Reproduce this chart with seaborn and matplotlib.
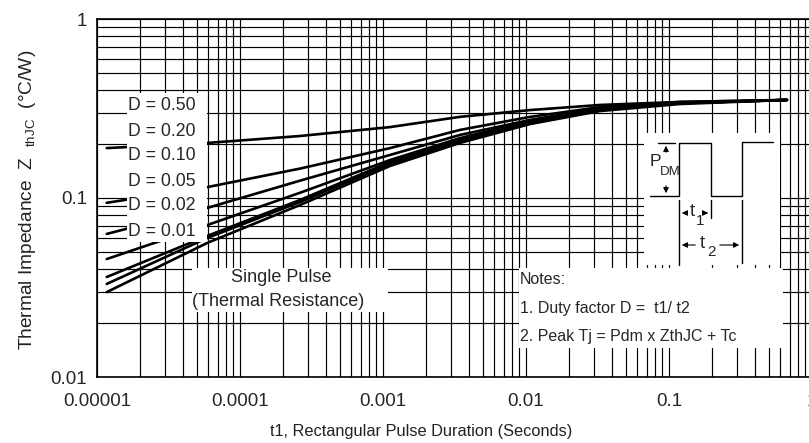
import numpy as np
import pandas as pd
import matplotlib
matplotlib.use("Agg")
import matplotlib.pyplot as plt
import seaborn as sns
from matplotlib.patches import Rectangle
from matplotlib.ticker import FixedLocator, FixedFormatter, LogLocator, NullFormatter

# pulse duration t1 (s) where curves were read
pulse_t = [1.17e-5, 5.9e-5, 2.63e-4, 1.12e-3, 3.45e-3, 1.07e-2, 3.29e-2, 0.119, 0.668]

# thermal impedance ZthJC (C/W) for each duty factor
z_d050 = [0.190, 0.203, 0.222, 0.249, 0.284, 0.310, 0.331, 0.344, 0.353]
z_d020 = [0.094, 0.115, 0.146, 0.190, 0.240, 0.284, 0.322, 0.344, 0.353]
z_d010 = [0.063, 0.088, 0.125, 0.174, 0.225, 0.273, 0.318, 0.339, 0.353]
z_d005 = [0.0456, 0.0706, 0.107, 0.163, 0.216, 0.269, 0.314, 0.339, 0.353]
z_d002 = [0.0362, 0.0614, 0.0975, 0.159, 0.211, 0.266, 0.310, 0.339, 0.353]
z_d001 = [0.0331, 0.0598, 0.095, 0.155, 0.208, 0.262, 0.310, 0.339, 0.353]
z_single = [0.0298, 0.0561, 0.0914, 0.151, 0.203, 0.259, 0.306, 0.335, 0.353]

duty_labels = ["D = 0.50", "D = 0.20", "D = 0.10", "D = 0.05", "D = 0.02", "D = 0.01"]
curve_names = duty_labels + ["Single Pulse"]
curve_values = [z_d050, z_d020, z_d010, z_d005, z_d002, z_d001, z_single]

x_ticks = [1e-5, 1e-4, 1e-3, 1e-2, 1e-1, 1]
x_tick_labels = ["0.00001", "0.0001", "0.001", "0.01", "0.1", "1"]
y_ticks = [0.01, 0.1, 1]
y_tick_labels = ["0.01", "0.1", "1"]

notes = ["Notes:", "1. Duty factor D =  t1/ t2", "2. Peak Tj = Pdm x ZthJC + Tc"]

df = pd.concat(
    [pd.DataFrame({"t": pulse_t, "z": v, "curve": n}) for n, v in zip(curve_names, curve_values)],
    ignore_index=True,
)

sns.set_style("white")
plt.rcParams["font.family"] = ["Liberation Sans", "DejaVu Sans"]
plt.rcParams["mathtext.default"] = "regular"

W, H = 809, 443
L, R, T, B = 97, 812, 19, 377

fig = plt.figure(figsize=(W / 100, H / 100), dpi=100)
ax = fig.add_axes([L / W, (H - B) / H, (R - L) / W, (B - T) / H])


def ac(px, py):
    # pixel position -> axes fraction
    return ((px - L) / (R - L), (B - py) / (B - T))


sns.lineplot(data=df, x="t", y="z", hue="curve", palette=["black"] * len(curve_names),
             legend=False, lw=1.9, estimator=None, sort=False, ax=ax, zorder=2)

ax.set_xscale("log")
ax.set_yscale("log")
ax.set_xlim(1e-5, 1)
ax.set_ylim(0.01, 1)
ax.xaxis.set_major_locator(FixedLocator(x_ticks))
ax.xaxis.set_major_formatter(FixedFormatter(x_tick_labels))
ax.yaxis.set_major_locator(FixedLocator(y_ticks))
ax.yaxis.set_major_formatter(FixedFormatter(y_tick_labels))
ax.xaxis.set_minor_locator(LogLocator(base=10, subs=np.arange(2, 10)))
ax.yaxis.set_minor_locator(LogLocator(base=10, subs=np.arange(2, 10)))
ax.xaxis.set_minor_formatter(NullFormatter())
ax.yaxis.set_minor_formatter(NullFormatter())
ax.grid(True, which="both", color="black", lw=0.85)
ax.set_axisbelow(True)
ax.tick_params(which="both", length=0)
ax.tick_params(axis="x", labelsize=13.5, pad=11.5)
ax.tick_params(axis="y", labelsize=13.5, pad=7)
for s in ax.spines.values():
    s.set_color("black")
    s.set_linewidth(1.2)

ax.set_xlabel("t1, Rectangular Pulse Duration (Seconds)", fontsize=11.8, color="#222222")
ax.xaxis.set_label_coords((421 - L) / (R - L), (B - 424) / (B - T))
ax.set_ylabel(r"Thermal Impedance  Z  $_{thJC}$  (°C/W)", fontsize=13.8, color="#222222")
ax.yaxis.set_label_coords((38 - L) / (R - L), (B - 200) / (B - T))

# white boxes
for x0, y0, x1, y1 in [(127, 93, 207, 242), (192, 268, 388, 312),
                       (519, 268, 783, 348), (644, 133, 780, 265)]:
    bx, by = ac(x0, y1)
    ax.add_patch(Rectangle((bx, by), (x1 - x0) / (R - L), (y1 - y0) / (B - T),
                           transform=ax.transAxes, facecolor="white", edgecolor="none", zorder=3))

for i, lab in enumerate(duty_labels):
    ax.text(*ac(128, 106 + 25 * i), lab, transform=ax.transAxes, ha="left", va="center",
            fontsize=12.7, zorder=5)

ax.text(*ac(281, 278), "Single Pulse", transform=ax.transAxes, ha="center", va="center",
        fontsize=13, zorder=5)
ax.text(*ac(278, 301), "(Thermal Resistance)", transform=ax.transAxes, ha="center", va="center",
        fontsize=13, zorder=5)

for i, line in enumerate(notes):
    ax.text(*ac(520, [280, 309, 337][i]), line, transform=ax.transAxes, ha="left", va="center",
            fontsize=11.5, zorder=5)


# pulse train sketch
def seg(pts, lw=1.0):
    xs, ys = zip(*[ac(px, py) for px, py in pts])
    ax.plot(xs, ys, transform=ax.transAxes, color="black", lw=lw, zorder=4, clip_on=False)


seg([(650, 196), (679, 196), (679, 143), (711, 143), (711, 196), (742, 196), (742, 142), (773, 142)])
seg([(658, 143), (675, 143)])
seg([(679, 200), (679, 265)])
seg([(711, 200), (711, 218)])
seg([(742, 200), (742, 263)])


def arrow(p_from, p_to):
    ax.annotate("", xy=ac(*p_to), xytext=ac(*p_from), xycoords="axes fraction",
                textcoords="axes fraction",
                arrowprops=dict(arrowstyle="-|>", color="black", lw=0.8, mutation_scale=8),
                zorder=4)


arrow((666, 155), (666, 143))
arrow((666, 183), (666, 196))
arrow((688, 213), (679, 213))
arrow((703, 213), (711, 213))
arrow((698, 245), (679, 245))
arrow((717, 245), (742, 245))


def label(px, py, s, size):
    ax.text(*ac(px, py), s, transform=ax.transAxes, ha="center", va="center",
            fontsize=size, zorder=5)


label(655, 162, "P", 12.5)
label(670, 172, "DM", 9.5)
label(692, 212, "t", 13.5)
label(700, 221, "1", 11)
label(702, 244, "t", 13.5)
label(712, 252, "2", 11)

fig.savefig("out.png", dpi=100)
